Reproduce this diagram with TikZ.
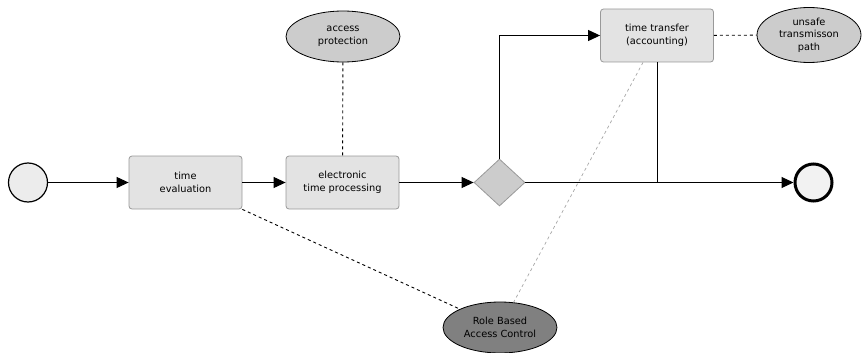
\documentclass[tikz,border=0pt]{standalone}
\usepackage{fontspec}
\setmainfont{DejaVu Sans}
\usetikzlibrary{arrows.meta, shapes.geometric, positioning}
\tikzstyle{task}=[draw=gray!80,fill=gray!22,rounded corners=3pt,minimum width=113pt,minimum height=53pt,align=center,line width=0.8pt]
\tikzstyle{note}=[ellipse,draw=black,fill=gray!40,minimum width=114pt,minimum height=51pt,inner sep=0pt,align=center,line width=0.8pt]
\tikzstyle{flow}=[line width=1pt,-{Triangle[length=12pt,width=11pt]}]
\tikzstyle{link}=[line width=0.9pt,dashed]
\tikzstyle{lbl}=[font=\fontsize{9.8}{12.5}\selectfont]

\begin{document}
\begin{tikzpicture}[x=1pt,y=-1pt]
    \useasboundingbox (0,0) rectangle (862,353);
    % events and gateway
    \node[circle,draw,fill=gray!15,line width=1.2pt,minimum size=39pt,inner sep=0pt] (start) at (28,182.5) {};
    \node[circle,draw,fill=gray!10,line width=3pt,minimum size=37pt,inner sep=0pt] (end) at (813.5,182.5) {};
    \node[diamond,draw=gray!80,fill=gray!40,minimum width=51pt,minimum height=47pt,inner sep=0pt,line width=0.8pt] (gw) at (499.5,182.5) {};
    % tasks
    \foreach \p/\n/\t in {{185.5,182.5}/eval/{time\\evaluation}, {342.5,182.5}/proc/{electronic\\time processing}, {657,35.5}/transfer/{time transfer\\(accounting)}}
        \node[task,lbl] (\n) at (\p) {\t};
    % annotations
    \node[note,lbl] (access) at (343,36.5) {access\\protection};
    \node[note,lbl,minimum width=104pt,minimum height=55pt] (unsafe) at (809,35) {unsafe\\transmisson\\path};
    \node[note,lbl,fill=gray] (rbac) at (500,327.5) {Role Based\\Access Control};
    % sequence flow
    \draw[flow] (start) -- (eval);
    \draw[flow] (eval) -- (proc);
    \draw[flow] (proc) -- (gw);
    \draw[flow] (gw.north) |- (transfer.west);
    \draw[flow] (gw.east) -- (end);
    \draw[line width=1pt] (transfer.south) -- (transfer.south |- gw.east);
    % associations
    \draw[link] (access) -- (proc);
    \draw[link] (transfer) -- (unsafe);
    \draw[link] (eval.south east) -- (rbac);
    \draw[link,gray!70,line width=0.7pt] ([xshift=-14pt]transfer.south) -- (rbac);
\end{tikzpicture}
\end{document}
